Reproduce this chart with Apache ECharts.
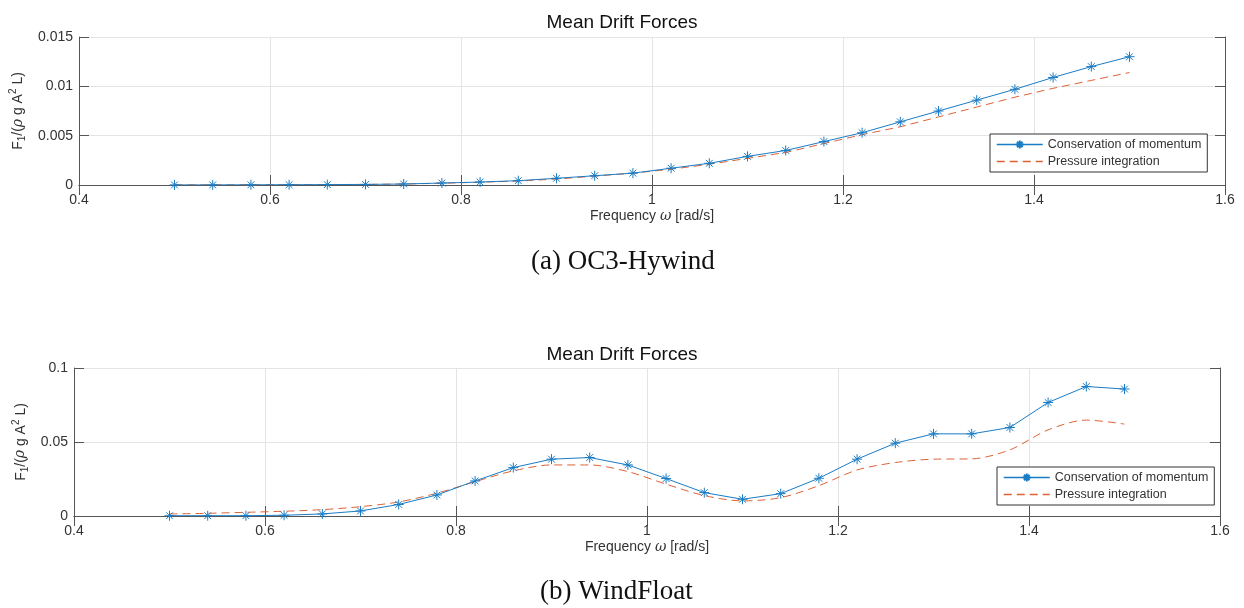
<!DOCTYPE html>
<html>
<head>
<meta charset="utf-8">
<script src="https://cdn.jsdelivr.net/npm/echarts@6/dist/echarts.min.js"></script>
<style>
  html, body { margin: 0; padding: 0; background: #fff; }
  #main { width: 1244px; height: 608px; }
</style>
</head>
<body>
<div id="main"></div>
<script>
// frequencies [rad/s]
const freq = [0.5, 0.54, 0.58, 0.62, 0.66, 0.7, 0.74, 0.78, 0.82, 0.86, 0.9, 0.94, 0.98,
  1.02, 1.06, 1.1, 1.14, 1.18, 1.22, 1.26, 1.3, 1.34, 1.38, 1.42, 1.46, 1.5];

// (a) OC3-Hywind
const hywindMomentum = [0.00001, 0.00001, 0.00002, 0.00003, 0.00004, 0.00006, 0.0001, 0.0002,
  0.0003, 0.00044, 0.00068, 0.00094, 0.0012, 0.0017, 0.0022, 0.0029, 0.0035, 0.0044, 0.0053,
  0.0064, 0.0075, 0.0086, 0.0097, 0.0109, 0.012, 0.013];
const hywindPressure = [0.00001, 0.00001, 0.00002, 0.00003, 0.00004, 0.00006, 0.0001, 0.00018,
  0.00028, 0.0004, 0.0006, 0.0009, 0.0012, 0.0016, 0.0021, 0.0027, 0.0033, 0.0042, 0.0051,
  0.0059, 0.0069, 0.0079, 0.0089, 0.0098, 0.0106, 0.0114];

// (b) WindFloat
const floatMomentum = [0.0002, 0.0002, 0.0002, 0.0005, 0.0014, 0.0034, 0.0078, 0.0142, 0.0237,
  0.0327, 0.0384, 0.0395, 0.0345, 0.0253, 0.0158, 0.0113, 0.0151, 0.0255, 0.0384, 0.0492,
  0.0555, 0.0555, 0.0598, 0.0767, 0.0875, 0.0858];
const floatPressure = [0.0014, 0.0018, 0.0025, 0.0032, 0.0043, 0.0063, 0.0095, 0.0154, 0.0232,
  0.0305, 0.0345, 0.0345, 0.03, 0.0215, 0.0138, 0.0102, 0.0124, 0.0205, 0.0311, 0.0361,
  0.0384, 0.0386, 0.0447, 0.0582, 0.0648, 0.0621];

const xTicks = { min: 0.4, max: 1.6, interval: 0.2 };
const yTicksA = { min: 0, max: 0.015, interval: 0.005 };
const yTicksB = { min: 0, max: 0.1, interval: 0.05 };

const nameA = 'Conservation of momentum';
const nameB = 'Pressure integration';

(function () {
  const myChart = echarts.init(document.getElementById('main'));
  const font = 'Liberation Sans, Arial, sans-serif';
  const axisColor = '#555';
  const textColor = '#333';
  const blue = '#1a7cc4';
  const orange = '#de6236';
  // MATLAB 风格的星号标记
  const star = 'path://M5,0L5,10M0,5L10,5M1.6,1.6L8.4,8.4M1.6,8.4L8.4,1.6';

  const pairs = (ys) => freq.map((f, i) => [f, ys[i]]);

  const yName = '{t|F}{sub|1}{t|/(}{it|ρ}{t| g A}{sup|2}{t| L)}';
  const yRich = {
    t: { fontSize: 14, fontFamily: font, color: textColor },
    it: { fontSize: 14, fontFamily: 'DejaVu Serif', fontStyle: 'italic', color: textColor },
    sub: { fontSize: 10, fontFamily: font, color: textColor, padding: [8, 0, 0, 0] },
    sup: { fontSize: 10, fontFamily: font, color: textColor, padding: [0, 0, 10, 0] },
  };

  function xAxes(gridIndex) {
    return [
      {
        type: 'value', gridIndex, position: 'bottom', ...xTicks,
        name: 'Frequency {it|ω} [rad/s]',
        nameLocation: 'middle',
        nameGap: 24,
        nameTextStyle: {
          fontSize: 14, fontFamily: font, color: textColor,
          rich: { it: { fontSize: 14, fontFamily: 'DejaVu Serif', fontStyle: 'italic', color: textColor } },
        },
        axisLine: { show: true, lineStyle: { color: axisColor } },
        axisTick: { show: true, inside: true, length: 10, lineStyle: { color: axisColor } },
        axisLabel: { fontSize: 14, fontFamily: font, color: textColor, margin: 8 },
        splitLine: { show: true, lineStyle: { color: '#e4e4e4' } },
      },
      {
        type: 'value', gridIndex, position: 'top', ...xTicks,
        axisLine: { show: true, lineStyle: { color: axisColor } },
        axisTick: { show: true, inside: true, length: 10, lineStyle: { color: axisColor } },
        axisLabel: { show: false },
        splitLine: { show: false },
      },
    ];
  }

  function yAxes(gridIndex, ticks, gap) {
    return [
      {
        type: 'value', gridIndex, position: 'left', ...ticks,
        name: yName,
        nameLocation: 'middle',
        nameRotate: 90,
        nameGap: gap,
        nameTextStyle: { fontSize: 14, fontFamily: font, color: textColor, rich: yRich },
        axisLine: { show: true, lineStyle: { color: axisColor } },
        axisTick: { show: true, inside: true, length: 10, lineStyle: { color: axisColor } },
        axisLabel: { fontSize: 14, fontFamily: font, color: textColor, margin: 6 },
        splitLine: { show: true, lineStyle: { color: '#e4e4e4' } },
      },
      {
        type: 'value', gridIndex, position: 'right', ...ticks,
        axisLine: { show: true, lineStyle: { color: axisColor } },
        axisTick: { show: true, inside: true, length: 10, lineStyle: { color: axisColor } },
        axisLabel: { show: false },
        splitLine: { show: false },
      },
    ];
  }

  function legend(left, top) {
    return {
      // 虚线图例不要圆点
      data: [{ name: nameA }, { name: nameB, itemStyle: { opacity: 0 } }],
      orient: 'vertical',
      left, top,
      itemWidth: 46,
      itemHeight: 10,
      itemGap: 4,
      padding: [4, 6, 4, 6],
      borderColor: '#333',
      borderWidth: 1,
      backgroundColor: '#fff',
      lineStyle: { width: 1.5 },
      textStyle: { fontSize: 12.5, fontFamily: font, color: textColor },
    };
  }

  function seriesPair(idx, ysA, ysB, smoothB) {
    return [
      {
        name: nameA, type: 'line', xAxisIndex: idx, yAxisIndex: idx,
        data: pairs(ysA),
        symbol: star, symbolSize: 10,
        itemStyle: { color: blue, borderColor: blue, borderWidth: 1 },
        lineStyle: { color: blue, width: 1 },
        z: 3,
      },
      {
        name: nameB, type: 'line', xAxisIndex: idx, yAxisIndex: idx,
        data: pairs(ysB),
        smooth: smoothB,
        showSymbol: false, symbol: 'none',
        itemStyle: { color: orange },
        lineStyle: { color: orange, width: 1, type: [8, 5] },
        z: 2,
      },
    ];
  }

  const option = {
    animation: false,
    title: [
      { text: 'Mean Drift Forces', left: 'center', top: 8,
        textStyle: { fontSize: 19, fontWeight: 'normal', fontFamily: font, color: '#111' } },
      { text: 'Mean Drift Forces', left: 'center', top: 340,
        textStyle: { fontSize: 19, fontWeight: 'normal', fontFamily: font, color: '#111' } },
    ],
    grid: [
      { left: 79, right: 19, top: 37, height: 148 },
      { left: 74, right: 24, top: 368, height: 148 },
    ],
    xAxis: [...xAxes(0), ...xAxes(1)],
    yAxis: [...yAxes(0, yTicksA, 49), ...yAxes(1, yTicksB, 42)],
    legend: [legend(990, 134), legend(997, 467)],
    series: [
      ...seriesPair(0, hywindMomentum, hywindPressure, false),
      ...seriesPair(2, floatMomentum, floatPressure, 0.3),
    ],
    graphic: [
      { type: 'text', left: 628 - 97, top: 248,
        style: { text: '(a) OC3-Hywind', font: '27px "Liberation Serif", serif', fill: '#111' } },
      { type: 'text', left: 625 - 85, top: 578,
        style: { text: '(b) WindFloat', font: '27px "Liberation Serif", serif', fill: '#111' } },
    ],
  };

  myChart.setOption(option);

  window.addEventListener('resize', () => {
    myChart.resize();
  });
})();
</script>
</body>
</html>
